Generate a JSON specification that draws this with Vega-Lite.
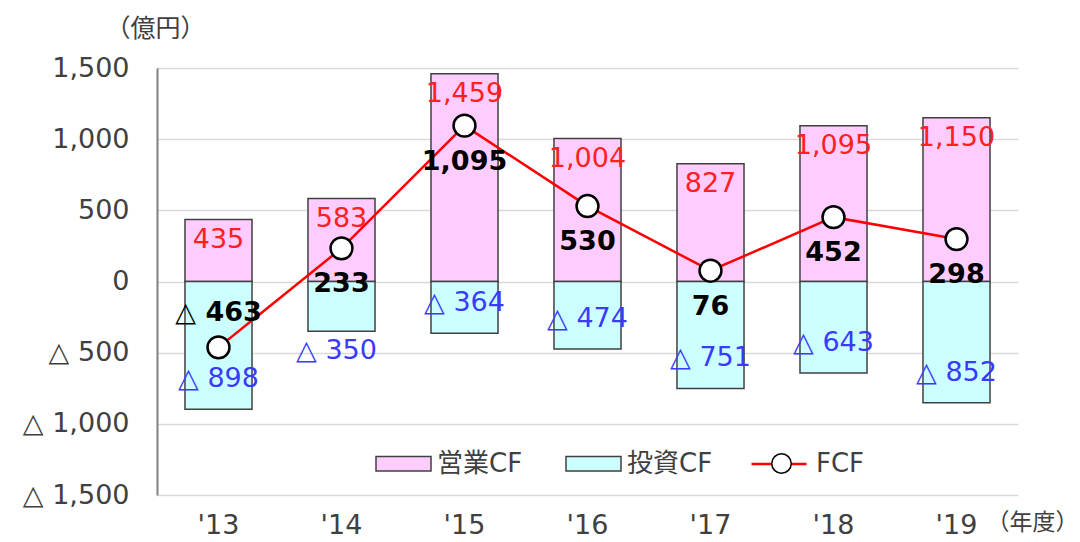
{
  "$schema": "https://vega.github.io/schema/vega-lite/v6.json",
  "width": 861,
  "height": 427,
  "autosize": {"type": "none"},
  "padding": {"left": 157, "top": 68, "right": 62, "bottom": 47},
  "background": "white",
  "config": {
    "locale": {"number": {"decimal": ".", "thousands": ",", "grouping": [3], "currency": ["", ""], "minus": "△ "}},
    "font": "DejaVu Sans, Noto Sans CJK JP",
    "view": {"stroke": null}
  },
  "data": {
    "values": [
      {"year": "'13", "op": 435, "inv": -898, "fcf": -463},
      {"year": "'14", "op": 583, "inv": -350, "fcf": 233},
      {"year": "'15", "op": 1459, "inv": -364, "fcf": 1095},
      {"year": "'16", "op": 1004, "inv": -474, "fcf": 530},
      {"year": "'17", "op": 827, "inv": -751, "fcf": 76},
      {"year": "'18", "op": 1095, "inv": -643, "fcf": 452},
      {"year": "'19", "op": 1150, "inv": -852, "fcf": 298}
    ]
  },
  "encoding": {
    "x": {
      "field": "year", "type": "nominal", "sort": null,
      "scale": {"paddingInner": 0.455, "paddingOuter": 0.2275},
      "axis": {
        "title": "（年度）", "titleFontSize": 23, "titleFontWeight": "normal", "titleColor": "#404040",
        "titleAnchor": "start", "titleAlign": "left", "titleBaseline": "middle", "titleX": 829, "titleY": 27,
        "labelAngle": 0, "labelFontSize": 27, "labelColor": "#404040", "labelPadding": 17,
        "domain": false, "ticks": false, "grid": false
      }
    }
  },
  "layer": [
    {
      "mark": {"type": "bar", "stroke": "#404040", "strokeWidth": 1.5},
      "encoding": {
        "y": {
          "field": "op", "type": "quantitative",
          "scale": {"domain": [-1500, 1500], "nice": false, "zero": true},
          "axis": {
            "values": [-1500, -1000, -500, 0, 500, 1000, 1500], "format": ",.0f",
            "title": "（億円）", "titleAngle": 0, "titleFontSize": 25, "titleFontWeight": "normal", "titleColor": "#404040",
            "titleAlign": "left", "titleBaseline": "middle", "titleX": -52, "titleY": -40,
            "labelFontSize": 27, "labelColor": "#404040", "labelPadding": 28,
            "ticks": false, "domainColor": "#808080", "domainWidth": 2,
            "gridColor": "#d9d9d9", "gridWidth": 1.5
          }
        },
        "fill": {
          "datum": "営業CF", "type": "nominal",
          "scale": {"domain": ["営業CF", "投資CF"], "range": ["#ffccff", "#ccffff"]},
          "legend": {
            "orient": "none", "legendX": 218, "legendY": 367, "direction": "horizontal", "title": null,
            "symbolType": "M-1,-0.26H1V0.26H-1Z", "symbolSize": 3025, "symbolStrokeColor": "#404040", "symbolStrokeWidth": 1.5,
            "labelFontSize": 26, "labelColor": "#404040", "labelOffset": 5, "columnPadding": 40
          }
        }
      }
    },
    {
      "mark": {"type": "bar", "stroke": "#404040", "strokeWidth": 1.5},
      "encoding": {
        "y": {"field": "inv", "type": "quantitative"},
        "fill": {"datum": "投資CF", "type": "nominal"}
      }
    },
    {
      "mark": {"type": "line", "strokeWidth": 2.5},
      "encoding": {
        "y": {"field": "fcf", "type": "quantitative"},
        "stroke": {
          "datum": "FCF", "type": "nominal",
          "scale": {"domain": ["FCF"], "range": ["#ff0000"]},
          "legend": {
            "orient": "none", "legendX": 593, "legendY": 367, "title": null,
            "symbolType": "stroke", "symbolSize": 3025, "symbolStrokeWidth": 2.5,
            "labelFontSize": 26, "labelColor": "#404040", "labelOffset": 8, "zindex": 1
          }
        }
      }
    },
    {
      "mark": {"type": "point", "filled": true, "fill": "white", "stroke": "black", "strokeWidth": 2.5, "size": 480, "opacity": 1},
      "encoding": {
        "y": {"field": "fcf", "type": "quantitative"},
        "shape": {
          "datum": "FCF点", "type": "nominal",
          "scale": {"domain": ["FCF点"], "range": ["circle"]},
          "legend": {
            "orient": "none", "legendX": 614, "legendY": 385, "title": null,
            "symbolSize": 380,
            "labelExpr": "''", "zindex": 2,
            "encode": {"symbols": {"update": {"fill": {"value": "white"}, "stroke": {"value": "black"}, "strokeWidth": {"value": 2.5}, "opacity": {"value": 1}}}}
          }
        }
      }
    },
    {
      "mark": {"type": "text", "fontSize": 27, "color": "#ff2020", "baseline": "middle", "dy": 20},
      "encoding": {
        "y": {"field": "op", "type": "quantitative"},
        "text": {"field": "op", "type": "quantitative", "format": ","}
      }
    },
    {
      "transform": [{"filter": "datum.inv <= -355"}],
      "mark": {"type": "text", "fontSize": 27, "color": "#3a3aff", "baseline": "middle", "dy": -30},
      "encoding": {
        "y": {"field": "inv", "type": "quantitative"},
        "text": {"field": "inv", "type": "quantitative", "format": ","}
      }
    },
    {
      "transform": [{"filter": "datum.inv > -355"}],
      "mark": {"type": "text", "fontSize": 27, "color": "#3a3aff", "baseline": "middle", "dx": -5, "dy": 20},
      "encoding": {
        "y": {"field": "inv", "type": "quantitative"},
        "text": {"field": "inv", "type": "quantitative", "format": ","}
      }
    },
    {
      "transform": [{"filter": "datum.fcf >= 0"}],
      "mark": {"type": "text", "fontSize": 27, "fontWeight": "bold", "color": "black", "baseline": "middle", "dy": 36},
      "encoding": {
        "y": {"field": "fcf", "type": "quantitative"},
        "text": {"field": "fcf", "type": "quantitative", "format": ","}
      }
    },
    {
      "transform": [{"filter": "datum.fcf < 0"}],
      "mark": {"type": "text", "fontSize": 27, "fontWeight": "bold", "color": "black", "baseline": "middle", "dy": -34},
      "encoding": {
        "y": {"field": "fcf", "type": "quantitative"},
        "text": {"field": "fcf", "type": "quantitative", "format": ","}
      }
    }
  ]
}
